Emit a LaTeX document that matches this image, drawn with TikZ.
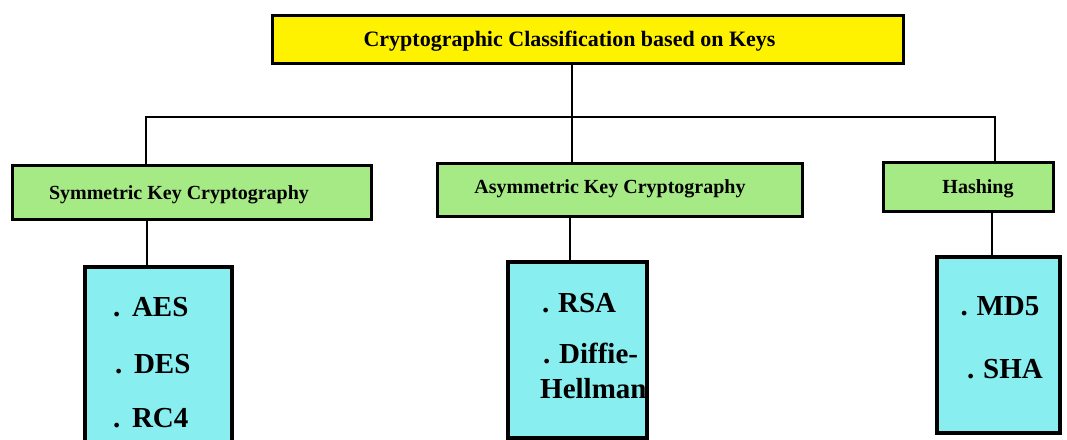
\documentclass[tikz,border=0pt]{standalone}
\usepackage{fontspec}
\setmainfont{Liberation Serif}
\definecolor{ttlyellow}{RGB}{255,242,0}
\definecolor{catgreen}{RGB}{166,234,134}
\definecolor{algcyan}{RGB}{136,238,240}
\begin{document}
\begin{tikzpicture}[x=1pt,y=-1pt,
  boxbase/.style={draw=black,rectangle,inner sep=0pt,line width=3pt},
  ttlbox/.style={boxbase,fill=ttlyellow},
  catbox/.style={boxbase,fill=catgreen},
  algbox/.style={boxbase,fill=algcyan,line width=3.8pt},
  conn/.style={line width=2.8pt,draw=black},
  ttltext/.style={font=\fontsize{22}{26}\selectfont\bfseries,anchor=base,inner sep=0pt},
  cattext/.style={font=\fontsize{20}{24}\selectfont\bfseries,anchor=base,inner sep=0pt},
  algtext/.style={font=\fontsize{29}{34}\selectfont\bfseries,inner sep=0pt}
]
\useasboundingbox (0,0) rectangle (1067,439);
\fill[white] (0,0) rectangle (1067,439);

% boxes
\node[ttlbox,minimum width=631pt,minimum height=48pt] (top) at (587.5,39) {};
\node[catbox,minimum width=359pt,minimum height=54pt] (sym) at (191.5,192) {};
\node[catbox,minimum width=365pt,minimum height=53pt] (asym) at (619.5,189.5) {};
\node[catbox,minimum width=170pt,minimum height=49pt] (hash) at (968,186.5) {};
\node[algbox,minimum width=147pt,minimum height=180pt] (algL) at (158.5,357) {};
\node[algbox,minimum width=139pt,minimum height=176pt] (algM) at (577.5,350) {};
\node[algbox,minimum width=123pt,minimum height=176pt] (algR) at (998.5,345) {};

% texts
\node[ttltext] (topT) at (569.5,46) {Cryptographic Classification based on Keys};
\node[cattext] (symT) at (179,199) {Symmetric Key Cryptography};
\node[cattext] (asymT) at (610,193) {Asymmetric Key Cryptography};
\node[cattext] (hashT) at (978,193) {Hashing};

\node[algtext,anchor=base west] (aes) at (113,316) {.\hspace{0.4em}AES};
\node[algtext,anchor=base west] (des) at (115,373) {.\hspace{0.4em}DES};
\node[algtext,anchor=base west] (rc4) at (113,427) {.\hspace{0.4em}RC4};
\node[algtext,anchor=base west] (rsa) at (542,312) {.\hspace{0.3em}RSA};
\node[algtext,anchor=base west] (dh1) at (543,363) {.\hspace{0.3em}Diffie-};
\node[algtext,anchor=base west] (dh2) at (540,398) {Hellman};
\node[algtext,anchor=base] (md5) at (1000,315) {.\hspace{0.3em}MD5};
\node[algtext,anchor=base] (sha) at (1005,378) {.\hspace{0.3em}SHA};

% connectors
\coordinate (jM) at (572,117);
\coordinate (jL) at (146,117);
\coordinate (jR) at (995,117);
\coordinate (dL) at (147,0);
\coordinate (dM) at (570,0);
\coordinate (dR) at (992,0);
\draw[conn] (top.south -| jM) -- (jM);
\draw[conn,line cap=rect] (jL) -- (jR);
\draw[conn] (jL) -- (sym.north -| jL);
\draw[conn] (jM) -- (asym.north -| jM);
\draw[conn] (jR) -- (hash.north -| jR);
\draw[conn] (sym.south -| dL) -- (algL.north -| dL);
\draw[conn] (asym.south -| dM) -- (algM.north -| dM);
\draw[conn] (hash.south -| dR) -- (algR.north -| dR);
\end{tikzpicture}
\end{document}
